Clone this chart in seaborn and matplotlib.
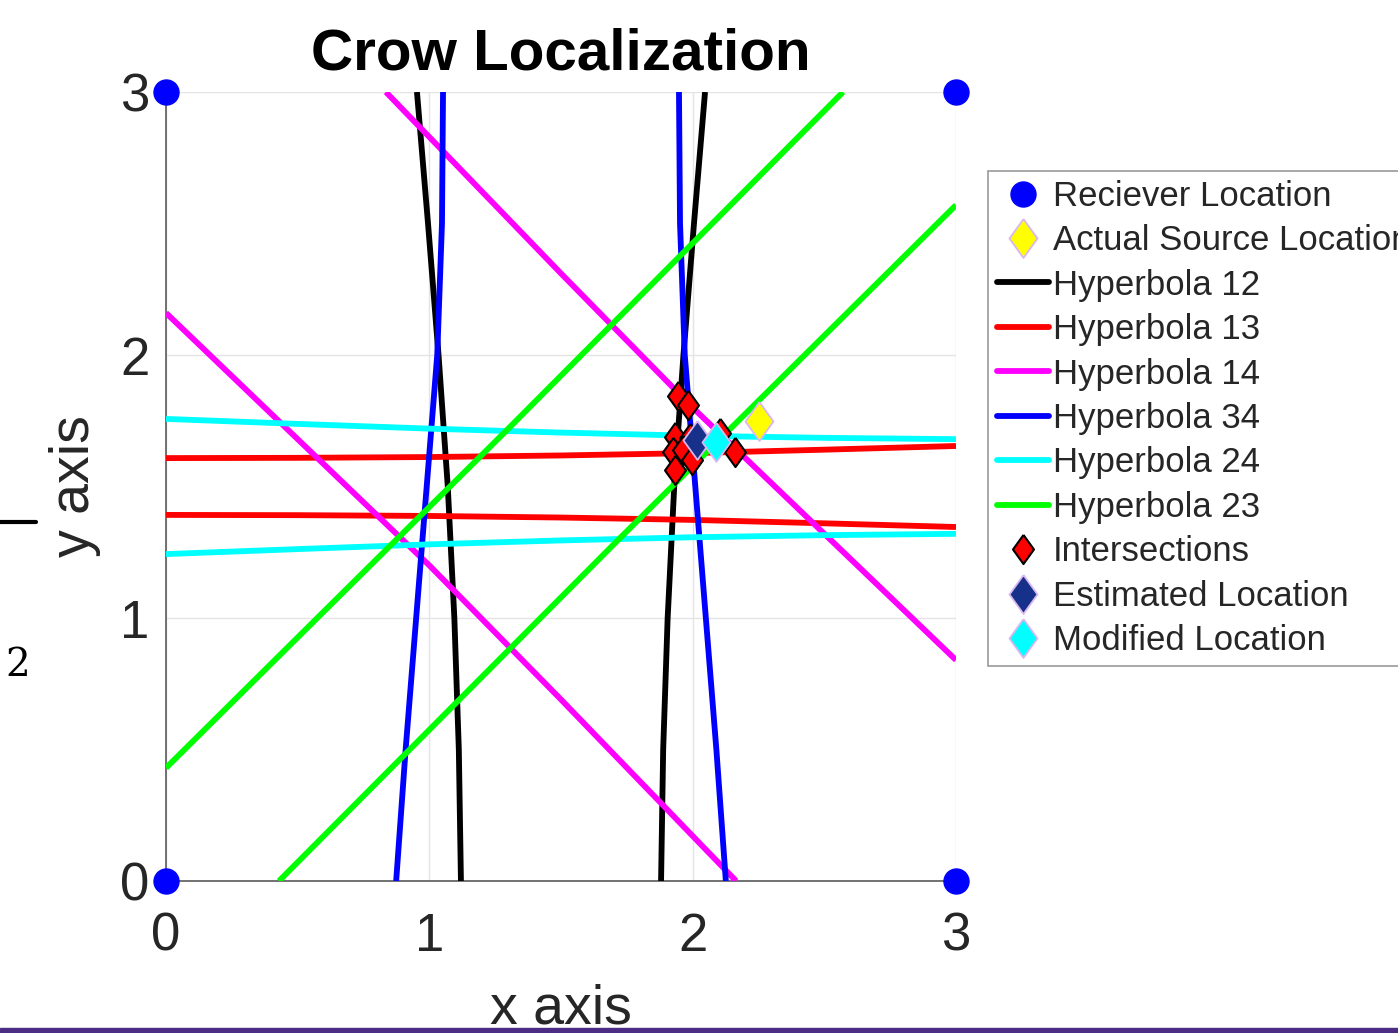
import numpy as np
import pandas as pd
import seaborn as sns
import matplotlib
matplotlib.use("Agg")
import matplotlib.pyplot as plt
from matplotlib.lines import Line2D

# ---------------- data ----------------
receiver_x = [0, 3, 0, 3]
receiver_y = [0, 0, 3, 3]

source_x = [2.252]
source_y = [1.749]

# Hyperbola 12 (black) - two branches
h12_y = [0.0, 0.5, 1.0, 1.5, 2.0, 2.5, 3.0]
h12_xa = [1.12, 1.112, 1.095, 1.07, 1.035, 0.995, 0.953]
h12_xb = [1.88, 1.888, 1.905, 1.93, 1.965, 2.005, 2.047]

# Hyperbola 13 (red)
h13_x = [0.0, 0.5, 1.0, 1.5, 2.0, 2.5, 3.0]
h13_ya = [1.392, 1.391, 1.388, 1.382, 1.373, 1.36, 1.346]
h13_yb = [1.608, 1.609, 1.612, 1.618, 1.627, 1.64, 1.654]

# Hyperbola 14 (magenta)
h14_xa = [0.835, 1.5, 2.0, 2.5, 3.0]
h14_ya = [3.0, 2.31, 1.80, 1.32, 0.84]
h14_xb = [2.165, 1.5, 1.0, 0.5, 0.0]
h14_yb = [0.0, 0.69, 1.20, 1.68, 2.16]

# Hyperbola 34 (blue)
h34_y = [0.0, 0.5, 1.0, 1.5, 2.0, 2.5, 3.0]
h34_xa = [0.874, 0.91, 0.95, 0.99, 1.03, 1.048, 1.052]
h34_xb = [2.126, 2.09, 2.05, 2.01, 1.97, 1.952, 1.948]

# Hyperbola 24 (cyan)
h24_x = [0.0, 0.5, 1.0, 1.5, 2.0, 2.5, 3.0]
h24_ya = [1.757, 1.738, 1.72, 1.705, 1.693, 1.685, 1.68]
h24_yb = [1.243, 1.262, 1.28, 1.295, 1.307, 1.315, 1.32]

# Hyperbola 23 (green)
h23_xa = [0.0, 1.28, 2.571]
h23_ya = [0.43, 1.70, 3.0]
h23_xb = [0.429, 1.72, 3.0]
h23_yb = [0.0, 1.30, 2.57]

# Intersections
int_x = [1.946, 1.984, 1.933, 1.99, 1.927, 1.964, 1.996, 1.933, 2.104, 2.161]
int_y = [1.844, 1.810, 1.689, 1.684, 1.632, 1.639, 1.601, 1.563, 1.702, 1.632]

est_x = [2.015]
est_y = [1.677]
mod_x = [2.089]
mod_y = [1.670]

labels = ["Reciever Location", "Actual Source Location", "Hyperbola 12",
          "Hyperbola 13", "Hyperbola 14", "Hyperbola 34", "Hyperbola 24",
          "Hyperbola 23", "Intersections", "Estimated Location",
          "Modified Location"]

# ---------------- style ----------------
sns.set_theme(style="white")
plt.rcParams['font.family'] = ['Liberation Sans', 'DejaVu Sans']

W, H = 1398, 1033
fig = plt.figure(figsize=(W / 100, H / 100), dpi=100)
ax = fig.add_axes([166 / W, 1 - 881 / H, (956 - 166) / W, (881 - 92) / H])

LW = 4.2
diamond = [(0, 1), (0.72, 0), (0, -1), (-0.72, 0), (0, 1)]
lav = '#d8b8f0'
MS_BIG = 28
MS_RED = 21

branches = [
    (h12_xa, h12_y, 'black'), (h12_xb, h12_y, 'black'),
    (h13_x, h13_ya, '#ff0000'), (h13_x, h13_yb, '#ff0000'),
    (h14_xa, h14_ya, '#ff00ff'), (h14_xb, h14_yb, '#ff00ff'),
    (h34_xa, h34_y, '#0000ff'), (h34_xb, h34_y, '#0000ff'),
    (h24_x, h24_ya, '#00ffff'), (h24_x, h24_yb, '#00ffff'),
    (h23_xa, h23_ya, '#00ff00'), (h23_xb, h23_yb, '#00ff00'),
]
for bx, by, col in branches:
    df = pd.DataFrame({'x': bx, 'y': by})
    sns.lineplot(data=df, x='x', y='y', sort=False, estimator=None,
                 color=col, lw=LW, ax=ax, solid_capstyle='butt', zorder=3)

ax.plot(receiver_x, receiver_y, 'o', color='#0000ff', ms=18,
        clip_on=False, zorder=6)
ax.plot(source_x, source_y, ls='', marker=diamond, ms=MS_BIG, mfc='#ffff00',
        mec=lav, mew=1.3, zorder=4)
ax.plot(int_x, int_y, ls='', marker=diamond, ms=MS_RED, mfc='#ff0000',
        mec='black', mew=1.5, zorder=5)
ax.plot(est_x, est_y, ls='', marker=diamond, ms=MS_BIG, mfc='#17308a',
        mec=lav, mew=1.3, zorder=6)
ax.plot(mod_x, mod_y, ls='', marker=diamond, ms=MS_BIG, mfc='#00ffff',
        mec=lav, mew=1.3, zorder=7)

ax.set_xlim(0, 3)
ax.set_ylim(0, 3)
ax.set_xticks([0, 1, 2, 3])
ax.set_yticks([0, 1, 2, 3])
ax.grid(True, color='#e4e4e4', lw=1)
ax.set_axisbelow(True)
for s in ['top', 'right']:
    ax.spines[s].set_visible(False)
for s in ['left', 'bottom']:
    ax.spines[s].set_color('#5a5a5a')
    ax.spines[s].set_linewidth(1.2)
ax.tick_params(axis='both', direction='in', length=6, width=1,
               color='#5a5a5a', labelsize=38, labelcolor='#262626')
ax.tick_params(axis='x', pad=22)
ax.tick_params(axis='y', pad=12)
ax.set_xlabel('x axis', fontsize=40, color='#262626', labelpad=16)
ax.set_ylabel('y axis', fontsize=40, color='#262626', labelpad=14)
ax.set_title('Crow Localization', fontsize=42, fontweight='bold',
             color='black', pad=16)

handles = [
    Line2D([], [], ls='', marker='o', color='#0000ff', ms=18),
    Line2D([], [], ls='', marker=diamond, ms=MS_BIG, mfc='#ffff00', mec=lav, mew=1.3),
    Line2D([], [], color='black', lw=LW),
    Line2D([], [], color='#ff0000', lw=LW),
    Line2D([], [], color='#ff00ff', lw=LW),
    Line2D([], [], color='#0000ff', lw=LW),
    Line2D([], [], color='#00ffff', lw=LW),
    Line2D([], [], color='#00ff00', lw=LW),
    Line2D([], [], ls='', marker=diamond, ms=MS_RED, mfc='#ff0000', mec='black', mew=1.5),
    Line2D([], [], ls='', marker=diamond, ms=MS_BIG, mfc='#17308a', mec=lav, mew=1.3),
    Line2D([], [], ls='', marker=diamond, ms=MS_BIG, mfc='#00ffff', mec=lav, mew=1.3),
]
leg = fig.legend(handles, labels, loc='upper left',
                 bbox_to_anchor=(988 / W, 1 - 171 / H), fontsize=25,
                 frameon=True, fancybox=False, edgecolor='#808080',
                 handlelength=1.5, handletextpad=0.12, labelspacing=0.33,
                 borderpad=0.25, borderaxespad=0)
leg.get_frame().set_linewidth(1.2)

# stray slide artifacts
fig.add_artist(Line2D([0, 36 / W], [1 - 522 / H, 1 - 522 / H],
                      color='black', lw=3, transform=fig.transFigure))
fig.text(18 / W, 1 - 665 / H, '2', fontsize=28, family='DejaVu Serif',
         ha='center', va='center', color='black')
fig.add_artist(plt.Rectangle((0, 0), 1, 5 / H, transform=fig.transFigure,
                             color='#4b2e83', zorder=10))

fig.savefig('out.png', dpi=100)
